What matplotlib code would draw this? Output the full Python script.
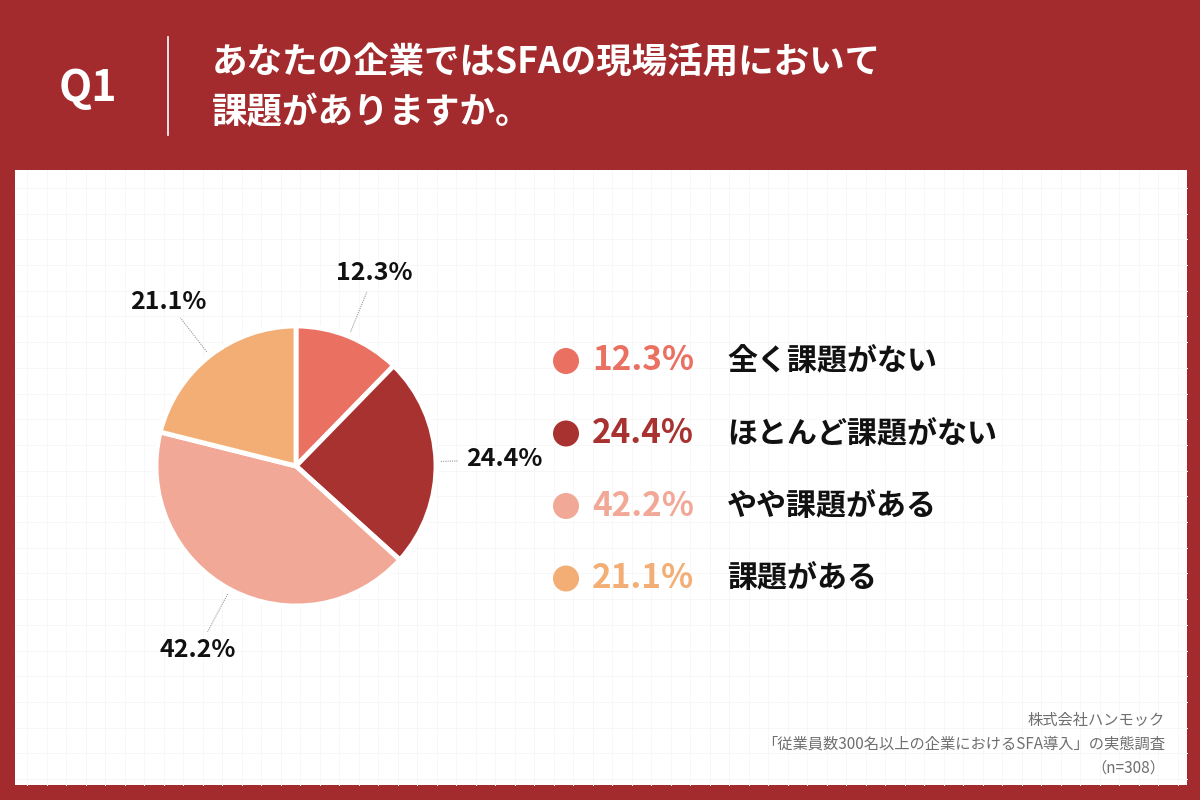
import numpy as np
import matplotlib
matplotlib.use('Agg')
import matplotlib.pyplot as plt
from matplotlib.patches import Rectangle, Circle

plt.rcParams['font.family'] = ['Noto Sans CJK JP', 'DejaVu Sans']

# data
categories = ['全く課題がない', 'ほとんど課題がない', 'やや課題がある', '課題がある']
shares = [12.3, 24.4, 42.2, 21.1]
colors = ['#EA7062', '#A83230', '#F1A896', '#F3AE75']

title_q = 'Q1'
title_lines = ['あなたの企業ではSFAの現場活用において', '課題がありますか。']
source_lines = ['株式会社ハンモック',
                '「従業員数300名以上の企業におけるSFA導入」の実態調査',
                '（n=308）']

BG = '#A32B2D'
W, H = 1200, 800

fig = plt.figure(figsize=(12, 8), dpi=100)
fig.patch.set_facecolor(BG)
ax = fig.add_axes([0, 0, 1, 1])
ax.set_axis_off()


def Y(y):
    # pixel rows from the top -> axes y (up)
    return H - y


# white panel with faint grid
px0, py0, px1, py1 = 15, 170, 1187, 785
ax.add_patch(Rectangle((px0, Y(py1)), px1 - px0, py1 - py0, facecolor='white',
                       edgecolor='none', zorder=0))
for gx in np.arange(px0 + 12, px1, 19.5):
    ax.plot([gx, gx], [Y(py0), Y(py1)], color='#f7f7f7', lw=0.7, zorder=0.5)
for gy in np.arange(py0 + 18, py1, 25.7):
    ax.plot([px0, px1], [Y(gy), Y(gy)], color='#f7f7f7', lw=0.7, zorder=0.5)

# header
ax.text(88, Y(88), title_q, color='white', fontsize=31, fontweight='bold',
        ha='center', va='center')
ax.plot([168, 168], [Y(37), Y(135)], color='white', lw=1.2)
for i, line in enumerate(title_lines):
    ax.text(212, Y(62 + i * 51), line, color='white', fontsize=25.6,
            fontweight='bold', ha='left', va='center')

# pie
cx, cy, R = 296, Y(466), 140
wedges, _ = ax.pie(shares, colors=colors, startangle=90, counterclock=False,
                   center=(cx, cy), radius=R,
                   wedgeprops=dict(edgecolor='white', linewidth=3.5))

start = 90.0
for val, w in zip(shares, wedges):
    span = val / 100 * 360
    mid = np.deg2rad(start - span / 2)
    start -= span
    c, s = np.cos(mid), np.sin(mid)
    r_end = 162 if abs(c) > 0.9 else 188
    ax.plot([cx + 145 * c, cx + r_end * c], [cy + 145 * s, cy + r_end * s],
            color='#9a9a9a', lw=0.8, linestyle=(0, (1, 1)))
    r_lab = 208
    ax.text(cx + r_lab * c, cy + r_lab * s, f'{val:.1f}%', fontsize=18,
            fontweight='bold', color='#111111', ha='center', va='center')

# legend
for i, (cat, val, col) in enumerate(zip(categories, shares, colors)):
    yy = Y(361 + i * 72.5)
    ax.add_patch(Circle((566, yy), 13, facecolor=col, edgecolor='none'))
    ax.text(592, yy, f'{val:.1f}%', fontsize=24, fontweight='bold', color=col,
            ha='left', va='center')
    ax.text(727, yy, cat, fontsize=21.6, fontweight='bold', color='#111111',
            ha='left', va='center')

# source
for i, line in enumerate(source_lines):
    ax.text(1165, Y(720 + i * 24), line, fontsize=11, color='#6f6f6f',
            ha='right', va='center')

ax.set_xlim(0, W)
ax.set_ylim(0, H)
ax.set_aspect('equal')
ax.set_position([0, 0, 1, 1])

fig.savefig('out.png', dpi=100, facecolor=BG)
